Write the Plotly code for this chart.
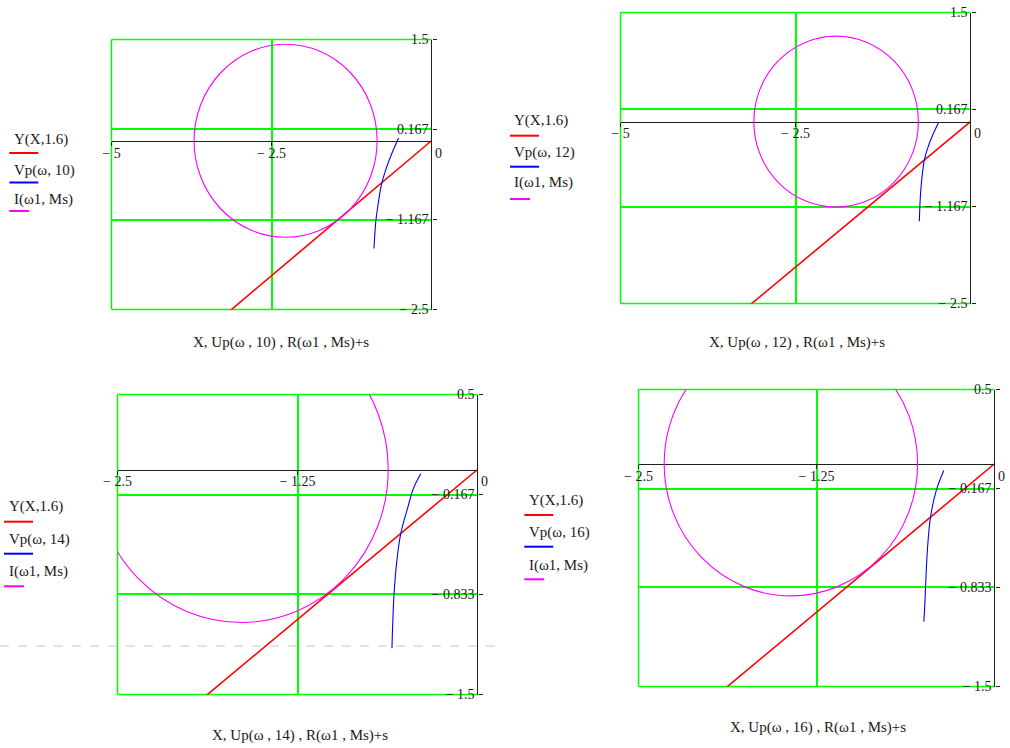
import plotly.graph_objects as go

W, H = 1010, 748

# ---- data -----------------------------------------------------------------
omega = ["10", "12", "14", "16"]

x_range = [[-5, 0], [-5, 0], [-2.5, 0], [-2.5, 0]]
y_range = [[-2.5, 1.5], [-2.5, 1.5], [-1.5, 0.5], [-1.5, 0.5]]

ZERO = "\u00a0\u00a0\u00a0\u00a00"
x_tickvals = [[-5, -2.5, 0], [-5, -2.5, 0], [-2.5, -1.25, 0], [-2.5, -1.25, 0]]
x_ticktext = [["− 5", "− 2.5", ZERO],
              ["− 5", "− 2.5", ZERO],
              ["− 2.5", "− 1.25", ZERO],
              ["− 2.5", "− 1.25", ZERO]]
y_tickvals = [[1.5, 0.167, -1.167, -2.5], [1.5, 0.167, -1.167, -2.5],
              [0.5, -0.167, -0.833, -1.5], [0.5, -0.167, -0.833, -1.5]]
y_ticktext = [["1.5", "0.167", "− 1.167", "− 2.5"],
              ["1.5", "0.167", "− 1.167", "− 2.5"],
              ["0.5", "− 0.167", "− 0.833", "− 1.5"],
              ["0.5", "− 0.167", "− 0.833", "− 1.5"]]

# Y(X,1.6): straight line through the origin
line_x = [-5.0, 0.0]
line_y = [-4.0, 0.0]

# Vp(w, n) curves
vp_x = [[-0.514, -0.628, -0.706, -0.783, -0.836, -0.868, -0.899],
        [-0.454, -0.549, -0.620, -0.659, -0.692, -0.716, -0.731],
        [-0.394, -0.446, -0.480, -0.533, -0.561, -0.580, -0.589, -0.594],
        [-0.356, -0.409, -0.449, -0.468, -0.479, -0.489, -0.496]]
vp_y = [[0.04, -0.208, -0.406, -0.654, -0.952, -1.175, -1.596],
        [-0.01, -0.205, -0.388, -0.525, -0.753, -1.027, -1.37],
        [-0.029, -0.129, -0.239, -0.428, -0.616, -0.837, -1.037, -1.192],
        [-0.045, -0.179, -0.358, -0.537, -0.716, -0.940, -1.063]]

# I(w1,Ms) against R(w1,Ms)+s: circle centre on the real axis and radius
circle_center = [-2.28, -1.92, -1.64, -1.43]
circle_radius = [1.43, 1.175, 1.02, 0.89]

# ---- layout geometry (pixels) ---------------------------------------------
boxes = [(111.5, 431.5, 39.5, 309.5),
         (620.5, 970.5, 12.5, 303.5),
         (117.5, 477.5, 394.5, 694.5),
         (638.5, 994.5, 389.5, 686.5)]
legend_text_x = [12, 512, 7, 527]
legend_line_x = [9.3, 510, 4, 524.3]
legend_text_y = [[140, 170, 199], [121, 152, 183], [506.7, 539.3, 571.7], [500, 532.7, 565]]
legend_line_y = [[153, 182.5, 211], [135.7, 166.7, 199], [521.7, 553.7, 586.3], [515, 546.7, 579.3]]
title_x = [281, 797, 300, 818]
title_y = [343, 343, 735, 727]

RED, BLUE, MAGENTA, GREEN = "#ff0000", "#0000ff", "#ff00ff", "#00ff00"
FONT = "Liberation Serif"
TXT = "#1a1a1a"
AXC = "#202020"
GRID_W = 1.5


def px(x):
    return x / W


def py(y):
    return 1 - y / H


fig = go.Figure()
layout = dict(
    width=W, height=H, margin=dict(l=0, r=0, t=0, b=0, autoexpand=False),
    paper_bgcolor="white", plot_bgcolor="white", showlegend=False,
    font=dict(family=FONT, color=TXT),
)
shapes, annotations = [], []

for i in range(4):
    sfx = "" if i == 0 else str(i + 1)
    xa, ya = "x" + sfx, "y" + sfx
    left, right, top, bottom = boxes[i]
    xdom = [px(left), px(right)]
    ydom = [py(bottom), py(top)]
    y0, y1 = y_range[i]
    zero_pos = ydom[0] + (0 - y0) / (y1 - y0) * (ydom[1] - ydom[0])

    layout["xaxis" + sfx] = dict(
        domain=xdom, range=x_range[i], anchor="free", position=zero_pos,
        automargin=False,
        tickvals=x_tickvals[i], ticktext=x_ticktext[i],
        showgrid=True, gridcolor=GREEN, gridwidth=GRID_W,
        zeroline=True, zerolinecolor=AXC, zerolinewidth=1,
        showline=True, linecolor=AXC, linewidth=1,
        ticks="outside", ticklen=4, tickcolor=AXC, ticklabelstandoff=-5,
        tickfont=dict(family=FONT, size=14, color=TXT), fixedrange=True,
    )
    layout["yaxis" + sfx] = dict(
        domain=ydom, range=y_range[i], anchor=xa, side="right",
        automargin=False,
        tickvals=y_tickvals[i], ticktext=y_ticktext[i],
        ticklabelposition="inside", ticklabeloverflow="allow",
        showgrid=True, gridcolor=GREEN, gridwidth=GRID_W,
        zeroline=False, showline=False,
        ticks="outside", ticklen=4, tickcolor=AXC,
        tickfont=dict(family=FONT, size=14, color=TXT), fixedrange=True,
    )

    # green frame on the left, top and bottom of the plot region
    xd, yd = xa + " domain", ya + " domain"
    for (ax0, ay0, ax1, ay1) in [(0, 0, 0, 1), (0, 1, 1, 1), (0, 0, 1, 0)]:
        shapes.append(dict(type="line", xref=xd, yref=yd,
                           x0=ax0, y0=ay0, x1=ax1, y1=ay1, layer="below",
                           line=dict(color=GREEN, width=GRID_W)))

    # I(w1,Ms) circle
    c, r = circle_center[i], circle_radius[i]
    shapes.append(dict(type="circle", xref=xa, yref=ya,
                       x0=c - r, x1=c + r, y0=-r, y1=r,
                       line=dict(color=MAGENTA, width=1.1)))

    fig.add_trace(go.Scatter(x=line_x, y=line_y, xaxis=xa, yaxis=ya, mode="lines",
                             line=dict(color=RED, width=1.6), hoverinfo="skip"))
    fig.add_trace(go.Scatter(x=vp_x[i], y=vp_y[i], xaxis=xa, yaxis=ya, mode="lines",
                             line=dict(color=BLUE, width=1.1, shape="spline"),
                             hoverinfo="skip"))

    # legend in the worksheet style: label with a coloured stroke beneath
    labels = ["Y(X,1.6)", "Vp(ω, " + omega[i] + ")", "I(ω1, Ms)"]
    colors = [RED, BLUE, MAGENTA]
    lengths = [29, 29, 20]
    for k in range(3):
        annotations.append(dict(text=labels[k], xref="paper", yref="paper",
                                x=px(legend_text_x[i]), y=py(legend_text_y[i][k]),
                                xanchor="left", yanchor="middle", showarrow=False,
                                font=dict(family=FONT, size=15, color=TXT)))
        shapes.append(dict(type="line", xref="paper", yref="paper",
                           x0=px(legend_line_x[i]), x1=px(legend_line_x[i] + lengths[k]),
                           y0=py(legend_line_y[i][k]), y1=py(legend_line_y[i][k]),
                           line=dict(color=colors[k], width=2)))

    annotations.append(dict(text="X, Up(ω , " + omega[i] + ") , R(ω1 , Ms)+s",
                            xref="paper", yref="paper",
                            x=px(title_x[i]), y=py(title_y[i]),
                            xanchor="center", yanchor="middle", showarrow=False,
                            font=dict(family=FONT, size=15, color=TXT)))

# worksheet page-break marker
shapes.append(dict(type="line", xref="paper", yref="paper",
                   x0=0, x1=px(497), y0=py(646), y1=py(646),
                   line=dict(color="#c8c8c8", width=1, dash="dash")))

layout["shapes"] = shapes
layout["annotations"] = annotations
fig.update_layout(**layout)
fig.write_html("out.html")
